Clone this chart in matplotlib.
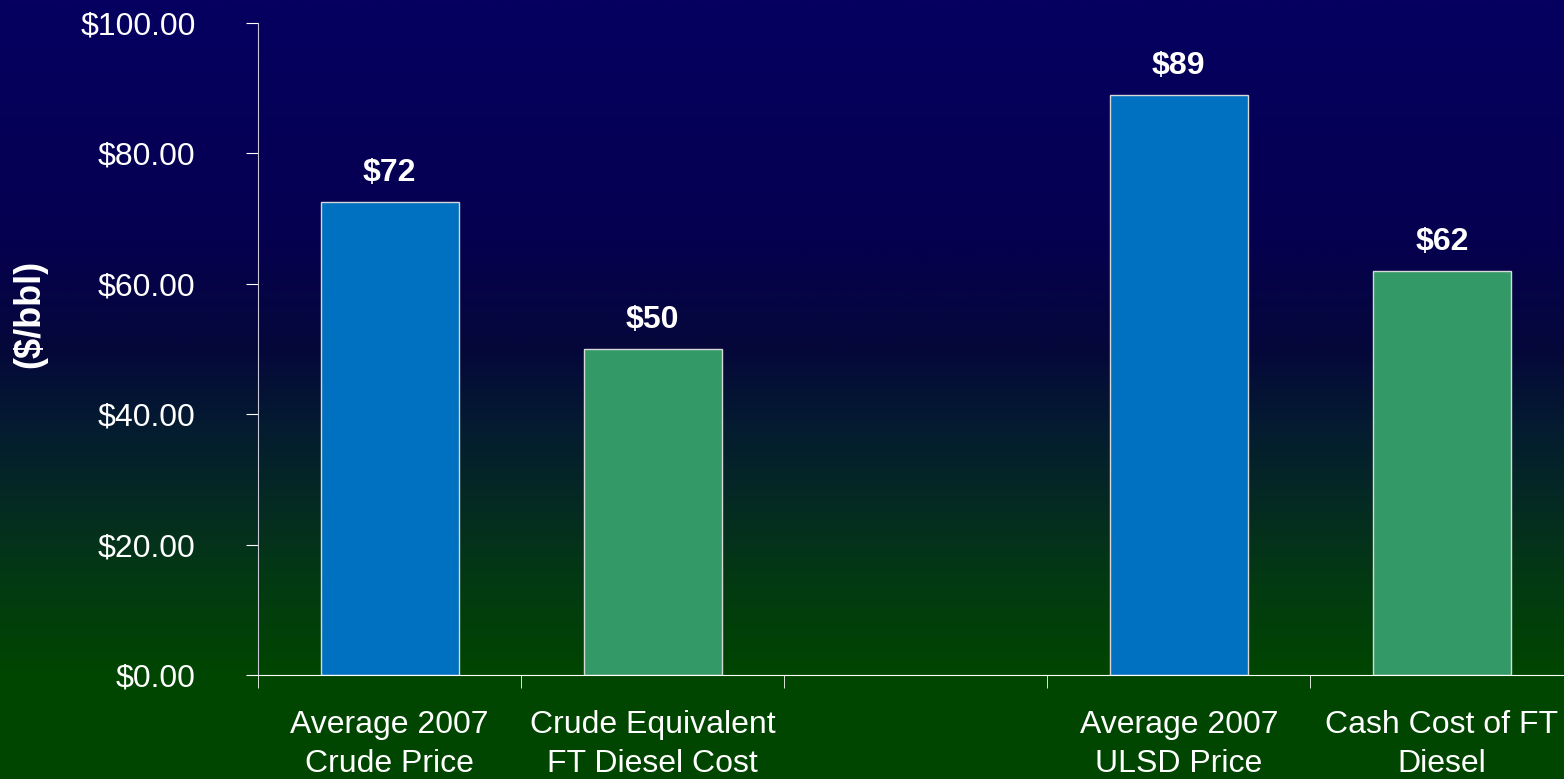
import numpy as np
import matplotlib.pyplot as plt
from matplotlib.colors import LinearSegmentedColormap

plt.rcParams['font.family'] = ['Liberation Sans', 'DejaVu Sans']

# Bar data (empty slot in the middle separates the two groups)
categories = ["Average 2007\nCrude Price", "Crude Equivalent\nFT Diesel Cost", "",
              "Average 2007\nULSD Price", "Cash Cost of FT\nDiesel"]
values = [72.5, 50, None, 89, 62]
value_labels = ["$72", "$50", "", "$89", "$62"]
bar_colors = ["#0070C0", "#339966", None, "#0070C0", "#339966"]
y_ticks = [0, 20, 40, 60, 80, 100]

fig = plt.figure(figsize=(15.64, 7.79), dpi=100)

# Gradient background: navy at top to dark green at bottom
bg = fig.add_axes([0, 0, 1, 1], zorder=-10)
stops = [(0.0, "#004600"), (0.13, "#004600"), (0.25, "#033a12"), (0.35, "#052b22"),
         (0.45, "#041c30"), (0.55, "#05083a"), (0.70, "#050050"), (1.0, "#060060")]
cmap = LinearSegmentedColormap.from_list("bg", stops)
grad = np.linspace(0, 1, 512).reshape(-1, 1)
bg.imshow(grad, aspect="auto", cmap=cmap, origin="lower", extent=[0, 1, 0, 1])
bg.axis("off")

ax = fig.add_axes([0.165, 0.1335, 0.841, 0.837])
ax.patch.set_alpha(0)

x = np.arange(len(categories))
for xi, v, c, lab in zip(x, values, bar_colors, value_labels):
    if v is None:
        continue
    ax.bar(xi, v, width=0.525, color=c, edgecolor="#d8d8d8", linewidth=1)
    ax.annotate(lab, (xi, v), textcoords="offset points", xytext=(0, 10),
                ha="center", va="bottom", color="white", fontsize=23, fontweight="bold")

ax.set_xlim(-0.5, len(categories) - 0.5)
ax.set_ylim(0, 100)
ax.set_yticks(y_ticks)
ax.set_yticklabels([f"${t:.2f}" for t in y_ticks])
ax.set_xticks(x)
ax.set_xticklabels(categories, linespacing=1.4)
ax.set_xticks(np.arange(-0.5, len(categories) - 0.5, 1), minor=True)
ax.tick_params(axis="x", which="major", length=0, pad=25, labelsize=23, labelcolor="white")
ax.tick_params(axis="x", which="minor", length=9, color="white", direction="out")
ax.tick_params(axis="y", length=9, color="white", labelsize=23, labelcolor="white", pad=36)

for side in ["top", "right"]:
    ax.spines[side].set_visible(False)
ax.spines["left"].set_color("#c8c8d8")
ax.spines["bottom"].set_color("white")

fig.text(0.019, 0.597, "($/bbl)", rotation=90, ha="center", va="center",
         color="white", fontsize=26, fontweight="bold")

fig.savefig("out.png", dpi=100)
